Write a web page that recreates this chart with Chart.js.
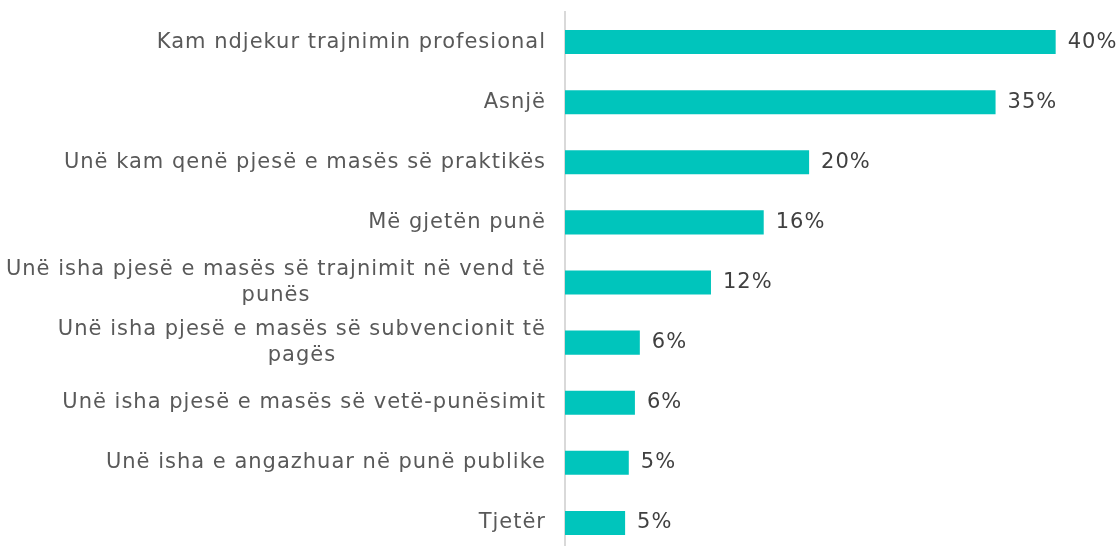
<!DOCTYPE html>
<html>
<head>
<meta charset="utf-8">
<script src="https://cdn.jsdelivr.net/npm/chart.js@4"></script>
<style>
  html, body { margin: 0; padding: 0; background: #fff; overflow: hidden; }
  #wrap { width: 1120px; height: 546px; overflow: hidden; }
</style>
</head>
<body>
<div id="wrap"><canvas id="chartBar" width="1120" height="553"></canvas></div>
<script>
// categories (multi-line ones are wrapped as in the picture)
const categories = [
    ['Kam ndjekur trajnimin profesional'],
    ['Asnjë'],
    ['Unë kam qenë pjesë e masës së praktikës'],
    ['Më gjetën punë'],
    ['Unë isha pjesë e masës së trajnimit në vend të', 'punës'],
    ['Unë isha pjesë e masës së subvencionit të', 'pagës'],
    ['Unë isha pjesë e masës së vetë-punësimit'],
    ['Unë isha e angazhuar në punë publike'],
    ['Tjetër']
];
// shares in percent
const shares = [40, 35.1, 19.9, 16.2, 11.9, 6.1, 5.7, 5.2, 4.9];

const FONT = '"DejaVu Sans", sans-serif';
const TEXT_COLOR = '#595959';

// draws category names (right aligned, wrapped lines centred) and value labels
const labelsPlugin = {
    id: 'labelsPlugin',
    afterDatasetsDraw(chart) {
        const ctx = chart.ctx;
        const yScale = chart.scales.y;
        const meta = chart.getDatasetMeta(0);
        ctx.save();
        ctx.font = '21px ' + FONT;
        ctx.letterSpacing = '1px';
        ctx.fillStyle = TEXT_COLOR;
        ctx.textBaseline = 'middle';
        const right = 546;
        const lineH = 26;
        categories.forEach((lines, i) => {
            const y = yScale.getPixelForTick(i);
            if (lines.length == 1) {
                ctx.textAlign = 'right';
                ctx.fillText(lines[0], right, y);
            } else {
                let maxW = 0;
                lines.forEach(l => { maxW = Math.max(maxW, ctx.measureText(l).width); });
                const cx = right - maxW / 2;
                ctx.textAlign = 'center';
                lines.forEach((l, j) => {
                    ctx.fillText(l, cx, y + (j - (lines.length - 1) / 2) * lineH);
                });
            }
        });
        ctx.fillStyle = '#404040';
        ctx.textAlign = 'left';
        meta.data.forEach((bar, i) => {
            ctx.fillText(Math.round(shares[i]) + '%', bar.x + 12, bar.y);
        });
        ctx.restore();
    }
};

var ctx = document.getElementById('chartBar').getContext('2d');
var chart = new Chart(ctx, {
    type: 'bar',
    data: {
        labels: categories,
        datasets: [{
            data: shares,
            backgroundColor: '#00C5BC',
            borderWidth: 0,
            categoryPercentage: 1,
            barPercentage: 0.4
        }]
    },
    options: {
        indexAxis: 'y',
        responsive: false,
        animation: false,
        layout: { padding: { top: 12, right: 3, bottom: 0, left: 0 } },
        plugins: {
            legend: { display: false },
            tooltip: { enabled: false }
        },
        scales: {
            x: {
                display: false,
                min: 0,
                max: 45
            },
            y: {
                grid: { display: false },
                border: { display: true, color: '#D9D9D9', width: 2 },
                ticks: { display: false },
                afterFit(scale) { scale.width = 565; }
            }
        }
    },
    plugins: [labelsPlugin]
});
</script>
</body>
</html>
